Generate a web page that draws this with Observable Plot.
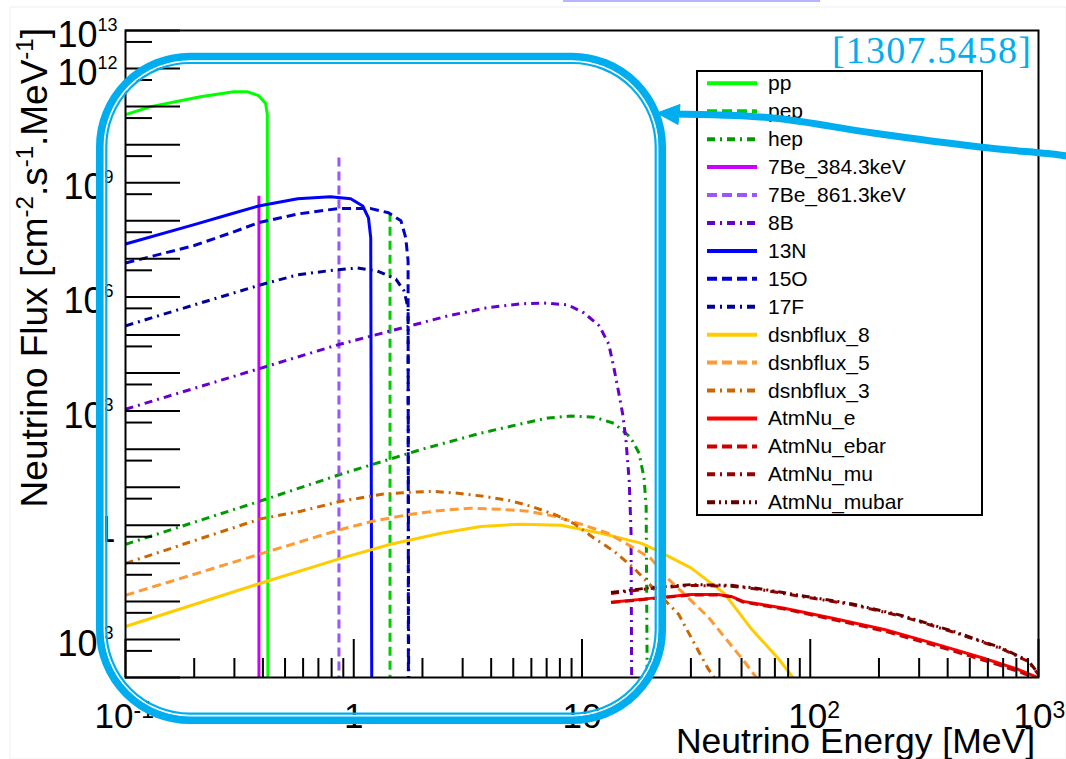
<!DOCTYPE html>
<html><head><meta charset="utf-8">
<script src="https://cdn.jsdelivr.net/npm/d3@7"></script>
<script src="https://cdn.jsdelivr.net/npm/@observablehq/plot@0.6"></script>
<style>html,body{margin:0;padding:0;background:#fff;overflow:hidden;} svg{display:block;}</style>
</head><body>
<div id="chart"></div>
<script>
// ---------------- data ----------------
const seriesNames = ["pp","pep","hep","7Be_384.3keV","7Be_861.3keV","8B","13N","15O","17F",
  "dsnbflux_8","dsnbflux_5","dsnbflux_3","AtmNu_e","AtmNu_ebar","AtmNu_mu","AtmNu_mubar"];

const ppEnergy = [0.1,0.129,0.213,0.298,0.343,0.383,0.411,0.418,0.4205];
const ppFlux   = [6.17e10,1.0e11,1.82e11,2.45e11,2.45e11,1.95e11,1.20e11,6.31e10,1e-4];

const pepEnergy = [1.442,1.442];
const pepFlux   = [1.62e8,1e-4];

const hepEnergy = [0.1,0.387,0.877,1.07,2.0,3.6,5.56,7.1,8.96,11.3,13.8,15.9,16.7,17.8,18.7,19.1,19.3];
const hepFlux   = [0.316,4.27,21.9,31.6,100,263,479,661,741,692,479,234,158,77.6,17.4,3.16,1e-4];

const be7aEnergy = [0.3843,0.3843];
const be7aFlux   = [4.57e8,1e-4];

const be7bEnergy = [0.8613,0.8613];
const be7bFlux   = [4.57e9,1e-4];

const b8Energy = [0.1,0.85,2.58,3.79,5.39,6.81,8.68,10.2,11.9,13.1,13.8,14.5,15.1,15.6,16.1,16.4,16.5];
const b8Flux   = [1.12e3,5.50e4,3.16e5,5.13e5,6.61e5,6.92e5,6.17e5,3.80e5,1.74e5,5.75e4,1.35e4,2.95e3,7.94e2,1.58e2,14.5,0.69,1e-4];

const n13Energy = [0.1,0.2,0.289,0.383,0.568,0.79,0.97,1.095,1.16,1.187,1.199];
const n13Flux   = [2.45e7,7.94e7,1.51e8,2.45e8,3.80e8,4.27e8,3.80e8,2.45e8,1.20e8,3.55e7,1e-4];

const o15Energy = [0.1,0.2,0.289,0.383,0.568,0.85,1.19,1.42,1.61,1.69,1.73,1.735];
const o15Flux   = [7.76e6,2.24e7,4.79e7,8.91e7,1.51e8,2.09e8,2.09e8,1.62e8,1.0e8,3.55e7,8.91e6,1e-4];

const f17Energy = [0.1,0.2,0.289,0.403,0.568,0.83,1.04,1.27,1.53,1.66,1.73,1.74];
const f17Flux   = [1.74e5,6.17e5,1.20e6,2.19e6,3.80e6,5.13e6,5.75e6,4.79e6,2.95e6,1.45e6,5.13e5,1e-4];

const dsnb8Energy = [0.1,0.387,0.877,1.45,2.41,3.6,5.39,8.1,12.1,18.1,21.6,30,39.4,42,55,72.4,84];
const dsnb8Flux   = [2.19e-3,2.95e-2,0.135,0.316,0.617,0.933,1.07,1.0,0.617,0.339,0.209,0.0759,0.0219,0.0162,1.95e-3,3.16e-4,1e-4];

const dsnb5Energy = [0.1,0.387,0.877,1.22,1.78,2.41,3.26,4.41,5.8,7.53,9.9,13.0,16.9,20,23.8,35.6,51.4,58];
const dsnb5Flux   = [1.45e-2,0.174,0.776,1.29,1.95,2.45,2.82,2.63,2.34,1.74,1.07,0.617,0.251,0.135,0.0398,3.98e-3,2.63e-4,1e-4];

const dsnb3Energy = [0.1,0.387,0.586,0.877,1.35,1.78,2.24,2.86,3.71,4.73,5.98,7.53,9.2,11.3,13.8,16.9,26.5,35.6,38];
const dsnb3Flux   = [0.1,1.45,2.34,4.27,6.61,7.41,7.76,6.92,5.75,4.57,3.16,1.95,1.12,0.457,0.209,0.0741,4.57e-3,1.74e-4,1e-4];

const atmEEnergy = [13.4,20,30,39.4,45,50.8,76.9,127,211,350,580,817,990];
const atmEFlux   = [9.55e-3,1.20e-2,1.51e-2,1.51e-2,1.35e-2,1.0e-2,6.61e-3,3.55e-3,1.82e-3,7.76e-4,3.16e-4,1.62e-4,1e-4];

const atmEbarEnergy = [13.4,20,30,39.4,45,50.8,76.9,127,211,350,580,817,950];
const atmEbarFlux   = [9.3e-3,1.17e-2,1.48e-2,1.48e-2,1.32e-2,9.6e-3,6.3e-3,3.3e-3,1.66e-3,7.0e-4,2.8e-4,1.45e-4,1e-4];

const atmMuEnergy = [13.4,20,30,45,59,91,151,251,415,688,903,1000];
const atmMuFlux   = [1.62e-2,2.19e-2,2.63e-2,2.51e-2,2.09e-2,1.35e-2,8.32e-3,4.07e-3,1.62e-3,5.75e-4,2.63e-4,1.20e-4];

const atmMubarEnergy = [13.4,20,30,45,59,91,151,251,415,688,903,1000];
const atmMubarFlux   = [1.70e-2,2.30e-2,2.76e-2,2.64e-2,2.19e-2,1.42e-2,8.7e-3,4.27e-3,1.70e-3,6.0e-4,2.75e-4,1.25e-4];

const xMajorTicks = [0.1,1,10,100,1000];
const xMinorTicks = [0.2,0.3,0.4,0.5,0.6,0.7,0.8,0.9,2,3,4,5,6,7,8,9,20,30,40,50,60,70,80,90,200,300,400,500,600,700,800,900];
const yMajorTicks = [1e-4,1e-3,1e-2,1e-1,1,1e1,1e2,1e3,1e4,1e5,1e6,1e7,1e8,1e9,1e10,1e11,1e12,1e13];
const yMinorTicks = [5e-4,5e-3,5e-2,5e-1,5,5e1,5e2,5e3,5e4,5e5,5e6,5e7,5e8,5e9,5e10,5e11,5e12];

const xLabelValues = [0.1,1,10,100,1000];
const xLabelBase   = ["10","1","10","10","10"];
const xLabelExp    = ["-1","","","2","3"];
const yLabelValues = [1e13,1e12,1e9,1e6,1e3,1,1e-3];
const yLabelBase   = ["10","10","10","10","10","1","10"];
const yLabelExp    = ["13","12","9","6","3","","-3"];

const xTitle = "Neutrino Energy [MeV]";
const refLabel = "[1307.5458]";

// ---------------- styles ----------------
const seriesEnergy = [ppEnergy,pepEnergy,hepEnergy,be7aEnergy,be7bEnergy,b8Energy,n13Energy,o15Energy,f17Energy,
  dsnb8Energy,dsnb5Energy,dsnb3Energy,atmEEnergy,atmEbarEnergy,atmMuEnergy,atmMubarEnergy];
const seriesFlux = [ppFlux,pepFlux,hepFlux,be7aFlux,be7bFlux,b8Flux,n13Flux,o15Flux,f17Flux,
  dsnb8Flux,dsnb5Flux,dsnb3Flux,atmEFlux,atmEbarFlux,atmMuFlux,atmMubarFlux];
const lineColors = ["#00ff00","#00cc00","#009900","#cc00ff","#9955ff","#6600cc","#0000ff","#0000cc","#000099",
  "#ffcc00","#ff9933","#cc6600","#ff0000","#cc0000","#990000","#660000"];
const DASH = "9,5", DDOT = "8,5,2,5", DDDOT = "8,4,2,4,2,4";
const lineDash = [null,DASH,DDOT,null,DASH,DDOT,null,DASH,DDOT,null,DASH,DDOT,null,DASH,DDOT,DDDOT];

const W = 1066, H = 759, ML = 125, MR = 28, MT = 30, MB = 82;
const FW = W - ML - MR, FH = H - MT - MB;
const FONT = "'Liberation Sans', Arial, sans-serif";
const CYAN = "#00aeef";

const curveMarks = seriesNames.map((name, i) => Plot.line(
  seriesEnergy[i].map((e, j) => ({energy: e, flux: seriesFlux[i][j], name})),
  {x: "energy", y: "flux", stroke: lineColors[i], strokeWidth: 3,
   ...(lineDash[i] ? {strokeDasharray: lineDash[i]} : {}),
   strokeLinecap: "butt", strokeLinejoin: "round", clip: true}));

const labelMarks = [];
xLabelValues.forEach((v, i) => {
  const e = xLabelExp[i];
  const split = e === "-1" ? 8 : (e === "3" ? 14 : 17);
  if (e) {
    labelMarks.push(Plot.text([v], {x: d => d, frameAnchor: "bottom", text: () => xLabelBase[i], textAnchor: "end",
      dx: split, dy: 50, lineAnchor: "bottom", fontSize: 35, fill: "black"}));
    labelMarks.push(Plot.text([v], {x: d => d, frameAnchor: "bottom", text: () => e, textAnchor: "start",
      dx: split, dy: 40, lineAnchor: "bottom", fontSize: 23, fill: "black"}));
  } else {
    labelMarks.push(Plot.text([v], {x: d => d, frameAnchor: "bottom", text: () => xLabelBase[i], textAnchor: "middle",
      dy: 50, lineAnchor: "bottom", fontSize: 35, fill: "black"}));
  }
});
yLabelValues.forEach((v, i) => {
  const e = yLabelExp[i];
  if (e) {
    const split = e.length > 1 ? -28 : -22;
    labelMarks.push(Plot.text([v], {y: d => d, frameAnchor: "left", text: () => yLabelBase[i], textAnchor: "end",
      dx: split, dy: 5, lineAnchor: "middle", fontSize: 36, fill: "black"}));
    labelMarks.push(Plot.text([v], {y: d => d, frameAnchor: "left", text: () => e, textAnchor: "start",
      dx: split, dy: 0, lineAnchor: "bottom", fontSize: 18, fill: "black"}));
  } else {
    labelMarks.push(Plot.text([v], {y: d => d, frameAnchor: "left", text: () => yLabelBase[i], textAnchor: "end",
      dx: -10, dy: 5, lineAnchor: "middle", fontSize: 36, fill: "black"}));
  }
});

const svgEl = Plot.plot({
  width: W, height: H,
  marginLeft: ML, marginRight: MR, marginTop: MT, marginBottom: MB,
  x: {type: "log", domain: [0.1, 1000], axis: null},
  y: {type: "log", domain: [1e-4, 1e13], axis: null},
  style: {fontFamily: FONT, background: "white", overflow: "visible"},
  marks: [
    ...curveMarks,
    Plot.tickX(xMajorTicks, {x: d => d, insetTop: FH - 38, stroke: "black", strokeWidth: 2}),
    Plot.tickX(xMinorTicks, {x: d => d, insetTop: FH - 19, stroke: "black", strokeWidth: 2}),
    Plot.tickY(yMajorTicks, {y: d => d, insetRight: FW - 55, stroke: "black", strokeWidth: 2}),
    Plot.tickY(yMinorTicks, {y: d => d, insetRight: FW - 27, stroke: "black", strokeWidth: 2}),
    Plot.frame({stroke: "black", strokeWidth: 2}),
    ...labelMarks
  ]
});
document.getElementById("chart").appendChild(svgEl);

const svg = d3.select(svgEl);

// canvas edge decorations
svg.insert("rect", ":first-child").attr("x", 10).attr("y", 7).attr("width", W - 10).attr("height", H - 7)
  .attr("fill", "white").attr("stroke", "#efefef").attr("stroke-width", 1);
svg.append("rect").attr("x", 563).attr("y", 0).attr("width", 257).attr("height", 2).attr("fill", "#b4b4ff");

// axis titles
svg.append("text").attr("x", 1035).attr("y", 753).attr("text-anchor", "end")
  .attr("font-family", FONT).attr("font-size", 35.5).attr("fill", "black").text(xTitle);

const yt = svg.append("text").attr("transform", "translate(47,28) rotate(-90)")
  .attr("text-anchor", "end").attr("font-family", FONT).attr("font-size", 37).attr("fill", "black");
const ytParts = [["Neutrino Flux [cm", false], ["-2", true], [".s", false], ["-1", true], [".MeV", false], ["-1", true], ["]", false]];
ytParts.forEach(([t, sup], k) => {
  const prevSup = k > 0 && ytParts[k - 1][1];
  const ts = yt.append("tspan").text(t);
  if (sup) ts.attr("font-size", 24).attr("dy", -14);
  else if (prevSup) ts.attr("dy", 14);
});

// reference label
svg.append("text").attr("x", 1032).attr("y", 63).attr("text-anchor", "end")
  .attr("font-family", "'Liberation Serif', 'DejaVu Serif', serif").attr("font-size", 38)
  .attr("letter-spacing", 1.2).attr("fill", CYAN).text(refLabel);

// legend
const lg = svg.append("g");
lg.append("rect").attr("x", 697).attr("y", 71).attr("width", 285).attr("height", 444)
  .attr("fill", "white").attr("stroke", "black").attr("stroke-width", 2);
seriesNames.forEach((name, i) => {
  const cy = 83.3 + i * 27.93;
  const ln = lg.append("line").attr("x1", 707).attr("x2", 757).attr("y1", cy).attr("y2", cy)
    .attr("stroke", lineColors[i]).attr("stroke-width", 4);
  if (lineDash[i]) ln.attr("stroke-dasharray", lineDash[i] === DASH ? "10,5" : lineDash[i]);
  lg.append("text").attr("x", 768).attr("y", cy + 7).attr("text-anchor", "start")
    .attr("font-family", FONT).attr("font-size", 21).attr("fill", "black").text(name);
});

// annotation: rounded box
const box = {x: 100, y: 56.7, w: 562, h: 663.3, r: 90};
svg.append("rect").attr("x", box.x).attr("y", box.y).attr("width", box.w).attr("height", box.h)
  .attr("rx", box.r).attr("fill", "none").attr("stroke", CYAN).attr("stroke-width", 8);
const wi = 4.4;
svg.append("rect").attr("x", box.x + wi).attr("y", box.y + wi).attr("width", box.w - 2 * wi).attr("height", box.h - 2 * wi)
  .attr("rx", box.r - wi).attr("fill", "none").attr("stroke", "white").attr("stroke-width", 1.6);
const ti = 6.3;
svg.append("rect").attr("x", box.x + ti).attr("y", box.y + ti).attr("width", box.w - 2 * ti).attr("height", box.h - 2 * ti)
  .attr("rx", box.r - ti).attr("fill", "none").attr("stroke", CYAN).attr("stroke-width", 2.2);

// annotation: arrow
const arrowPath = d3.line().curve(d3.curveCatmullRom)([[1072, 157], [1060, 155], [980, 147], [873, 133], [773, 118], [672, 114]]);
svg.append("path").attr("d", arrowPath).attr("fill", "none").attr("stroke", CYAN).attr("stroke-width", 7);
svg.append("path").attr("d", "M657,113 L680,104.5 L678,124.5 Z").attr("fill", CYAN).attr("stroke", CYAN).attr("stroke-width", 1);
</script>
</body></html>
